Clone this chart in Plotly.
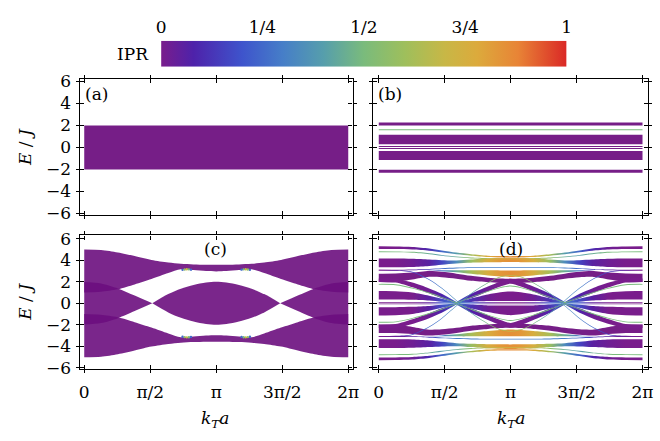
import numpy as np
import plotly.graph_objects as go
from plotly.colors import sample_colorscale

W, H = 660, 441
PI = np.pi
TWO_PI = 2 * np.pi

# ---------------------------------------------------------------- colours
IPR_SCALE = [
    [0.00, "rgb(121,29,140)"],
    [0.08, "rgb(78,34,170)"],
    [0.20, "rgb(62,84,204)"],
    [0.30, "rgb(70,126,200)"],
    [0.40, "rgb(86,158,172)"],
    [0.50, "rgb(122,187,124)"],
    [0.60, "rgb(158,191,92)"],
    [0.70, "rgb(200,183,70)"],
    [0.78, "rgb(220,170,60)"],
    [0.88, "rgb(232,132,54)"],
    [1.00, "rgb(218,40,38)"],
]
PURPLE = "rgb(118,30,135)"
PURPLE_SEE_THROUGH = "rgba(108,14,126,0.9)"   # overlapping bands come out darker

# ---------------------------------------------------------------- (a) uniform chain: one band
a_k = [0.0, TWO_PI]
a_lo = [-2.0, -2.0]
a_hi = [2.0, 2.0]

# ---------------------------------------------------------------- (b) flat sub-bands
b_lo = [2.00, 1.55, 0.28, 0.04, -0.14, -1.15, -2.30]
b_hi = [2.27, 1.64, 1.14, 0.13, -0.05, -0.32, -2.02]
b_ipr = [0.0, 0.5, 0.0, 0.0, 0.0, 0.0, 0.0]

# ---------------------------------------------------------------- (c) three dispersive bands (upper half, k in [0, pi])
c_k_half = [0.0, 0.4, 0.8, 1.2, 1.6, 2.0, 2.3, 2.6, 2.9, PI]
c_top_half = [5.00, 4.95, 4.72, 4.38, 4.02, 3.78, 3.66, 3.60, 3.57, 3.57]
c_gap_half = [1.00, 1.07, 1.30, 1.75, 2.25, 2.80, 3.15, 3.08, 2.99, 2.96]
c_mid_k_left = [0.0, 0.4, 0.8, 1.2, 1.62]
c_mid_left = [1.98, 1.84, 1.38, 0.72, 0.0]
c_mid_k_centre = [1.62, 2.0, 2.3, 2.6, 2.9, PI]
c_mid_centre = [0.0, 0.85, 1.35, 1.70, 1.93, 2.00]
# localised states at the band edge
c_edge_k = [2.34, 2.39, 2.44, 2.49, 2.54]
c_edge_E = [3.10, 3.14, 3.16, 3.15, 3.12]
c_edge_ipr = [0.25, 0.55, 0.72, 0.5, 0.25]

# ---------------------------------------------------------------- (d) fragmented bands (upper half, k in [0, pi])
d_k_half = [0.0, 0.4, 0.8, 1.2, 1.5, 1.85, 2.2, 2.6, 2.9, PI]
d_t1_lo = [5.04, 5.03, 4.99, 4.88, 4.73, 4.55, 4.42, 4.30, 4.27, 4.26]
d_t1_hi = [5.28, 5.27, 5.22, 5.08, 4.90, 4.70, 4.55, 4.42, 4.38, 4.37]
d_t1_ipr = [0.0, 0.0, 0.02, 0.10, 0.24, 0.40, 0.62, 0.78, 0.84, 0.86]
d_g1_mid = [4.78, 4.77, 4.73, 4.60, 4.45, 4.30, 4.20, 4.14, 4.12, 4.12]
d_g1_ipr = [0.5, 0.5, 0.5, 0.45, 0.4, 0.45, 0.55, 0.65, 0.7, 0.7]
d_t2_lo = [3.34, 3.34, 3.36, 3.45, 3.58, 3.70, 3.76, 3.80, 3.81, 3.82]
d_t2_hi = [4.15, 4.15, 4.13, 4.06, 4.00, 3.98, 4.06, 4.18, 4.23, 4.25]
d_t2_ipr = [0.0, 0.0, 0.02, 0.06, 0.16, 0.34, 0.58, 0.76, 0.83, 0.85]
d_t2m_mid = [3.08, 3.08, 3.10, 3.15, 3.21, 3.27, 3.31, 3.33, 3.33, 3.33]
d_t2m_ipr = [0.0, 0.0, 0.05, 0.15, 0.25, 0.30, 0.30, 0.30, 0.30, 0.30]
d_o2_lo = [3.05, 3.05, 3.05, 3.05, 2.98, 2.88, 2.74, 2.58, 2.48, 2.44]
d_o2_hi = [3.05, 3.05, 3.05, 3.06, 3.06, 3.07, 3.07, 3.06, 3.05, 3.05]
d_o2_ipr = [0.0, 0.0, 0.0, 0.12, 0.28, 0.45, 0.62, 0.76, 0.83, 0.85]
d_t3_lo = [1.97, 1.98, 2.20, 2.45, 2.42, 2.28, 2.08, 1.96, 1.90, 1.88]
d_t3_hi = [2.75, 2.76, 2.85, 3.00, 2.92, 2.75, 2.55, 2.38, 2.30, 2.28]
d_zero_lo = [0.03] * 10
d_zero_hi = [0.10] * 10
d_zero_ipr = [0.0, 0.0, 0.0, 0.05, 0.20, 0.35, 0.20, 0.05, 0.0, 0.0]
d_cross_mid = [3.08, 3.05, 2.90, 2.20, 1.40, 0.25, -0.90, -1.90, -2.45, -2.60]
d_cross_ipr = [0.0, 0.05, 0.15, 0.25, 0.3, 0.35, 0.4, 0.5, 0.6, 0.7]
# central group: pinches at k ~ 1.85
d_b_k_left = [0.0, 0.4, 0.8, 1.2, 1.5, 1.85]
d_b_k_centre = [1.85, 2.2, 2.6, 2.9, PI]
d_bo_lo_left = [1.98, 1.92, 1.48, 0.92, 0.46, 0.00]
d_bo_hi_left = [2.30, 2.28, 1.92, 1.38, 0.88, 0.12]
d_bo_ipr_left = [0.0, 0.0, 0.0, 0.02, 0.08, 0.22]
d_bo_lo_centre = [0.00, 0.46, 1.10, 1.55, 1.82]
d_bo_hi_centre = [0.12, 0.88, 1.55, 2.02, 2.28]
d_bo_ipr_centre = [0.22, 0.08, 0.02, 0.0, 0.0]
d_bt_lo_left = [0.36, 0.36, 0.33, 0.25, 0.14, 0.00]
d_bt_hi_left = [1.13, 1.12, 1.00, 0.70, 0.42, 0.06]
d_bt_ipr_left = [0.0, 0.0, 0.0, 0.06, 0.18, 0.30]
d_bt_lo_centre = [0.00, 0.12, 0.20, 0.20, 0.20]
d_bt_hi_centre = [0.06, 0.45, 0.82, 1.02, 1.10]
d_bt_ipr_centre = [0.30, 0.12, 0.02, 0.0, 0.0]
d_g2_mid_left = [1.76, 1.72, 1.40, 0.95, 0.55, 0.05]
d_g2_mid_centre = [0.05, 0.55, 1.10, 1.45, 1.60]

# ---------------------------------------------------------------- axis ticks
k_ticks = [0.0, PI / 2, PI, 3 * PI / 2, TWO_PI]
k_tick_text = ["0", "π/2", "π", "3π/2", "2π"]
E_ticks = [-6, -4, -2, 0, 2, 4, 6]
E_tick_text = ["−6", "−4", "−2", "0", "2", "4", "6"]
ipr_ticks = [0.0, 0.25, 0.5, 0.75, 1.0]
ipr_tick_text = ["0", "1/4", "1/2", "3/4", "1"]

FONT = "DejaVu Serif"
FONT_SIZE = 17


# ---------------------------------------------------------------- helpers
def unfold(k_half, v_half):
    """Spectrum is symmetric about k = pi: extend [0, pi] data to [0, 2pi]."""
    k = list(k_half) + [TWO_PI - kk for kk in reversed(k_half[:-1])]
    v = list(v_half) + list(reversed(v_half[:-1]))
    return k, v


def mirror_k(k_seg, v_seg):
    """Copy of a k-segment reflected through k = pi."""
    return [TWO_PI - kk for kk in reversed(k_seg)], list(reversed(v_seg))


def gradient_for(k, ipr):
    """Horizontal fill gradient following the IPR along k."""
    kmin, kmax = min(k), max(k)
    cols = sample_colorscale(IPR_SCALE, list(ipr))
    scale = [[(kk - kmin) / (kmax - kmin), c] for kk, c in zip(k, cols)]
    scale[0][0], scale[-1][0] = 0.0, 1.0
    return dict(type="horizontal", colorscale=scale), cols[0]


def add_band(fig, ax, k, lo, hi, color=None, ipr=None):
    xa, ya = ax
    common = dict(x=list(k), mode="lines", hoverinfo="skip", showlegend=False,
                  xaxis=xa, yaxis=ya,
                  line=dict(width=0, shape="spline", smoothing=0.8))
    fig.add_trace(go.Scatter(y=list(lo), **common))
    extra = dict(fill="tonexty")
    if ipr is not None and max(ipr) > 0:
        grad, first = gradient_for(k, ipr)
        extra["fillgradient"] = grad
        extra["fillcolor"] = first
    else:
        extra["fillcolor"] = color or PURPLE
    fig.add_trace(go.Scatter(y=list(hi), **common, **extra))


def add_sym_band(fig, ax, k_half, lo_half, hi_half, ipr_half=None, color=None):
    """Band and its particle-hole partner (E -> -E), over the full zone."""
    k, lo = unfold(k_half, lo_half)
    _, hi = unfold(k_half, hi_half)
    ipr = unfold(k_half, ipr_half)[1] if ipr_half is not None else None
    add_band(fig, ax, k, lo, hi, color=color, ipr=ipr)
    add_band(fig, ax, k, [-v for v in hi], [-v for v in lo], color=color, ipr=ipr)


def add_sym_segment(fig, ax, k_seg, lo_seg, hi_seg, ipr_seg=None, color=None):
    """A k-segment, its copy through k = pi, and their E -> -E partners."""
    km, lom = mirror_k(k_seg, lo_seg)
    _, him = mirror_k(k_seg, hi_seg)
    iprm = mirror_k(k_seg, ipr_seg)[1] if ipr_seg is not None else None
    for k, lo, hi, ipr in [(list(k_seg), list(lo_seg), list(hi_seg), ipr_seg),
                           (km, lom, him, iprm)]:
        add_band(fig, ax, k, lo, hi, color=color, ipr=ipr)
        add_band(fig, ax, k, [-v for v in hi], [-v for v in lo], color=color, ipr=ipr)


def add_sym_centre(fig, ax, k_half, lo_half, hi_half, ipr_half):
    """Segment spanning k = pi (given on its left half) and its E -> -E partner."""
    k, lo = unfold(k_half, lo_half)
    _, hi = unfold(k_half, hi_half)
    _, ipr = unfold(k_half, ipr_half)
    add_band(fig, ax, k, lo, hi, ipr=ipr)
    add_band(fig, ax, k, [-v for v in hi], [-v for v in lo], ipr=ipr)


def line_band(mid, half_width):
    return [m - half_width for m in mid], [m + half_width for m in mid]


fig = go.Figure()
AX_A, AX_B, AX_C, AX_D = ("x", "y"), ("x2", "y2"), ("x3", "y3"), ("x4", "y4")

# ---- (a)
add_band(fig, AX_A, a_k, a_lo, a_hi, color=PURPLE)

# ---- (b)
for lo, hi, ipr in zip(b_lo, b_hi, b_ipr):
    col = PURPLE if ipr == 0 else sample_colorscale(IPR_SCALE, [ipr])[0]
    add_band(fig, AX_B, [0.0, TWO_PI], [lo, lo], [hi, hi], color=col)

# ---- (c)
k_full, c_top = unfold(c_k_half, c_top_half)
_, c_gap = unfold(c_k_half, c_gap_half)
add_band(fig, AX_C, k_full, c_gap, c_top, color=PURPLE_SEE_THROUGH)
add_band(fig, AX_C, k_full, [-v for v in c_top], [-v for v in c_gap], color=PURPLE_SEE_THROUGH)
# central band, pinched at the two crossings
for k_seg, e_seg in [(c_mid_k_left, c_mid_left), mirror_k(c_mid_k_left, c_mid_left),
                     unfold(c_mid_k_centre, c_mid_centre)]:
    add_band(fig, AX_C, k_seg, [-v for v in e_seg], e_seg, color=PURPLE_SEE_THROUGH)
ek = c_edge_k + [TWO_PI - kk for kk in c_edge_k]
fig.add_trace(go.Scatter(
    x=ek + ek, y=c_edge_E * 2 + [-v for v in c_edge_E] * 2,
    mode="markers", marker=dict(size=2.4, color=c_edge_ipr * 4, colorscale=IPR_SCALE,
                                cmin=0, cmax=1, line=dict(width=0)),
    hoverinfo="skip", showlegend=False, xaxis="x3", yaxis="y3"))

# ---- (d)
add_sym_band(fig, AX_D, d_k_half, d_t3_lo, d_t3_hi, color=PURPLE)
add_sym_band(fig, AX_D, d_k_half, d_t2_lo, d_t2_hi, ipr_half=d_t2_ipr)
add_sym_band(fig, AX_D, d_k_half, d_t1_lo, d_t1_hi, ipr_half=d_t1_ipr)
add_sym_band(fig, AX_D, d_k_half, d_o2_lo, d_o2_hi, ipr_half=d_o2_ipr)
lo, hi = line_band(d_t2m_mid, 0.04)
add_sym_band(fig, AX_D, d_k_half, lo, hi, ipr_half=d_t2m_ipr)
add_sym_segment(fig, AX_D, d_b_k_left, d_bt_lo_left, d_bt_hi_left, d_bt_ipr_left)
add_sym_segment(fig, AX_D, d_b_k_left, d_bo_lo_left, d_bo_hi_left, d_bo_ipr_left)
add_sym_centre(fig, AX_D, d_b_k_centre, d_bt_lo_centre, d_bt_hi_centre, d_bt_ipr_centre)
add_sym_centre(fig, AX_D, d_b_k_centre, d_bo_lo_centre, d_bo_hi_centre, d_bo_ipr_centre)
add_sym_band(fig, AX_D, d_k_half, d_zero_lo, d_zero_hi, ipr_half=d_zero_ipr)
# thin high-IPR branches
lo, hi = line_band(d_g1_mid, 0.04)
add_sym_band(fig, AX_D, d_k_half, lo, hi, ipr_half=d_g1_ipr)
lo, hi = line_band(d_g2_mid_left, 0.04)
add_sym_segment(fig, AX_D, d_b_k_left, lo, hi, [0.5] * len(d_b_k_left))
lo, hi = line_band(d_g2_mid_centre, 0.04)
add_sym_centre(fig, AX_D, d_b_k_centre, lo, hi, [0.5] * len(d_b_k_centre))
lo, hi = line_band(d_cross_mid, 0.035)
add_sym_band(fig, AX_D, d_k_half, lo, hi, ipr_half=d_cross_ipr)

# ---- colour bar (gradient strip on its own axes)
fig.add_trace(go.Scatter(
    x=[0, 1, 1, 0, 0], y=[0, 0, 1, 1, 0], mode="lines", line=dict(width=0),
    fill="toself", fillcolor=IPR_SCALE[0][1],
    fillgradient=dict(type="horizontal", colorscale=IPR_SCALE),
    hoverinfo="skip", showlegend=False, xaxis="x5", yaxis="y5"))


# ---------------------------------------------------------------- axes
def px(x):
    return x / W


def py(y):
    return 1 - y / H


X_LEFT = [px(76), px(354)]
X_RIGHT = [px(375), px(655)]
Y_TOP = [py(215), py(74)]
Y_BOT = [py(375.5), py(236.5)]
K_RANGE_LEFT = [-0.11, 6.386]
K_RANGE_RIGHT = [-0.133, 6.416]
E_RANGE_TOP = [-6.11, 6.2]
E_RANGE_BOT = [-6.1, 6.3]

tick_font = dict(family=FONT, size=FONT_SIZE, color="black")
axis_common = dict(showline=True, linecolor="black", linewidth=1.3, mirror="ticks",
                   ticks="inside", ticklen=4, tickwidth=1.2, tickcolor="black",
                   showgrid=False, zeroline=False, tickfont=tick_font)
k_axis = dict(axis_common, tickmode="array", tickvals=k_ticks, ticktext=k_tick_text,
              ticklabelstandoff=7)
E_axis = dict(axis_common, tickmode="array", tickvals=E_ticks, ticktext=E_tick_text,
              ticklabelstandoff=4)

layout = dict(
    width=W, height=H, margin=dict(l=0, r=0, t=0, b=0),
    paper_bgcolor="white", plot_bgcolor="rgba(0,0,0,0)", showlegend=False,
    font=tick_font,
    xaxis=dict(k_axis, domain=X_LEFT, range=K_RANGE_LEFT, anchor="y", showticklabels=False),
    yaxis=dict(E_axis, domain=Y_TOP, range=E_RANGE_TOP, anchor="x"),
    xaxis2=dict(k_axis, domain=X_RIGHT, range=K_RANGE_RIGHT, anchor="y2", showticklabels=False),
    yaxis2=dict(E_axis, domain=Y_TOP, range=E_RANGE_TOP, anchor="x2", showticklabels=False),
    xaxis3=dict(k_axis, domain=X_LEFT, range=K_RANGE_LEFT, anchor="y3"),
    yaxis3=dict(E_axis, domain=Y_BOT, range=E_RANGE_BOT, anchor="x3"),
    xaxis4=dict(k_axis, domain=X_RIGHT, range=K_RANGE_RIGHT, anchor="y4"),
    yaxis4=dict(E_axis, domain=Y_BOT, range=E_RANGE_BOT, anchor="x4", showticklabels=False),
    xaxis5=dict(domain=[px(159), px(572)], range=[0, 1], anchor="y5", side="top",
                tickmode="array", tickvals=ipr_ticks, ticktext=ipr_tick_text,
                ticks="", showline=False, showgrid=False, zeroline=False,
                ticklabelstandoff=3, tickfont=tick_font),
    yaxis5=dict(domain=[py(61), py(34)], range=[0, 1], anchor="x5", visible=False),
)

# second set of axes on each panel: short outward tick stubs so the ticks cross the frame
outer_tick = dict(ticks="outside", ticklen=3, tickwidth=1.2, tickcolor="black",
                  showline=False, mirror="ticks", showticklabels=False,
                  showgrid=False, zeroline=False, tickmode="array")
panels = [(X_LEFT, Y_TOP, K_RANGE_LEFT, E_RANGE_TOP),
          (X_RIGHT, Y_TOP, K_RANGE_RIGHT, E_RANGE_TOP),
          (X_LEFT, Y_BOT, K_RANGE_LEFT, E_RANGE_BOT),
          (X_RIGHT, Y_BOT, K_RANGE_RIGHT, E_RANGE_BOT)]
for i, (xd, yd, xr, yr) in enumerate(panels):
    n = 6 + i
    layout[f"xaxis{n}"] = dict(outer_tick, domain=xd, range=xr, anchor=f"y{n}",
                               tickvals=k_ticks)
    layout[f"yaxis{n}"] = dict(outer_tick, domain=yd, range=yr, anchor=f"x{n}",
                               tickvals=E_ticks)
    fig.add_trace(go.Scatter(x=[None], y=[None], mode="lines", showlegend=False,
                             hoverinfo="skip", xaxis=f"x{n}", yaxis=f"y{n}"))

fig.update_layout(**layout)

ann = [
    dict(text="(a)", x=px(79), y=py(77), xanchor="left", yanchor="top"),
    dict(text="(b)", x=px(378), y=py(77), xanchor="left", yanchor="top"),
    dict(text="(c)", x=px(214), y=py(251), xanchor="center", yanchor="middle"),
    dict(text="(d)", x=px(515), y=py(251), xanchor="center", yanchor="middle"),
    dict(text="IPR", x=px(149), y=py(48), xanchor="right", yanchor="middle"),
    dict(text="<i>E</i> / <i>J</i>", x=px(21), y=py(145), xanchor="center",
         yanchor="middle", textangle=-90),
    dict(text="<i>E</i> / <i>J</i>", x=px(21), y=py(306), xanchor="center",
         yanchor="middle", textangle=-90),
    dict(text="<i>k</i><sub><i>T</i></sub><i>a</i>", x=px(214), y=py(428),
         xanchor="center", yanchor="middle"),
    dict(text="<i>k</i><sub><i>T</i></sub><i>a</i>", x=px(515), y=py(428),
         xanchor="center", yanchor="middle"),
]
for a in ann:
    a.update(xref="paper", yref="paper", showarrow=False, font=tick_font)
fig.update_layout(annotations=ann)

fig.write_html("out.html")
